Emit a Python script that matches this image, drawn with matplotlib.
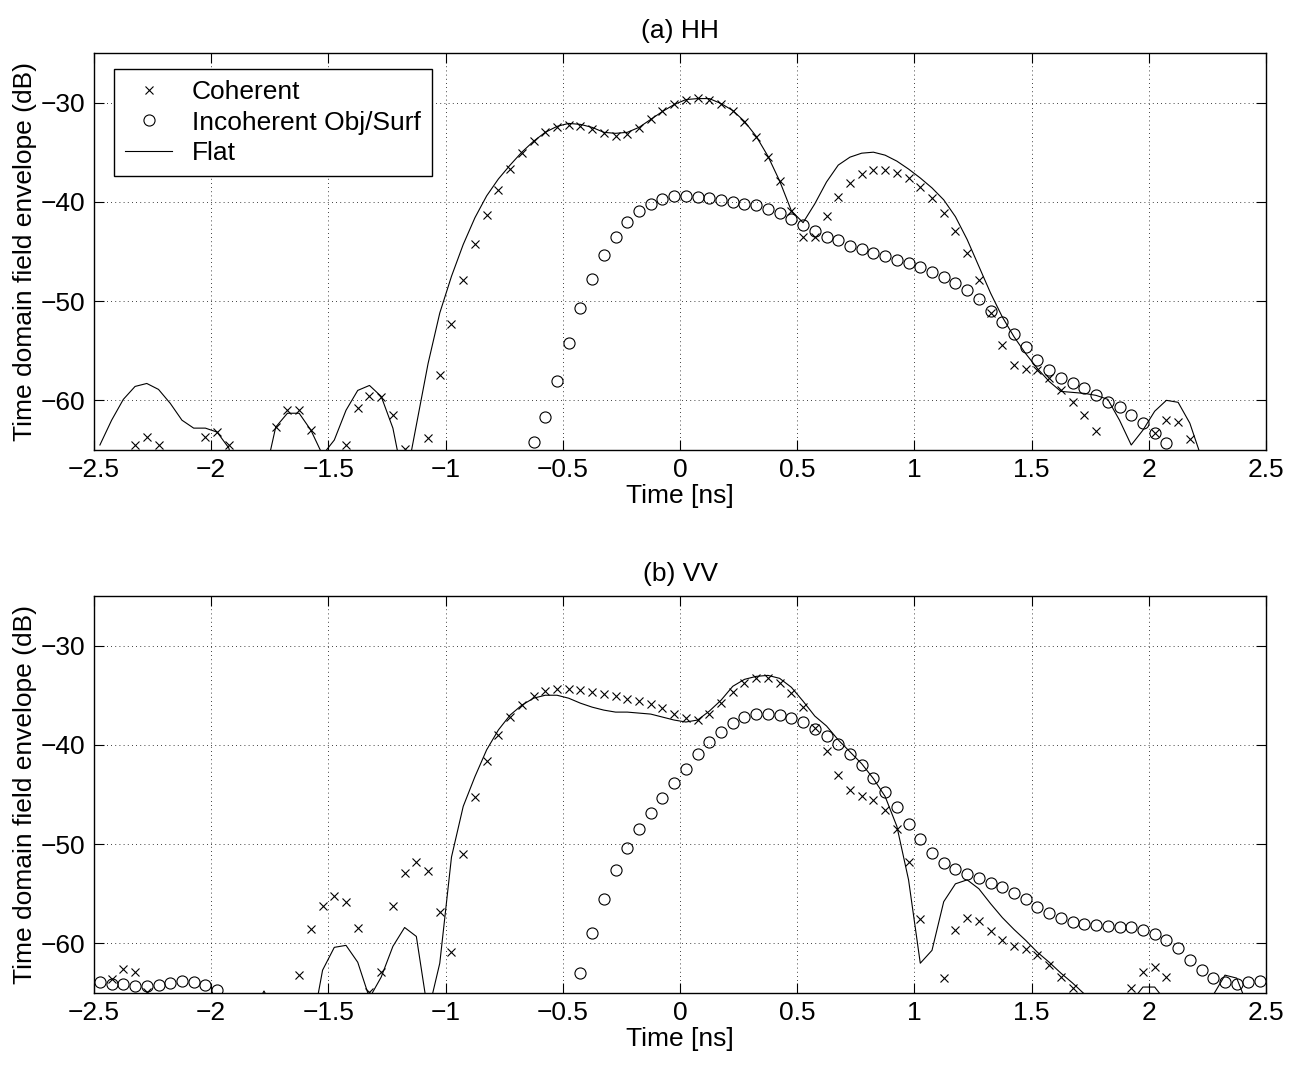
import numpy as np
import matplotlib.pyplot as plt
from matplotlib.ticker import FuncFormatter, MultipleLocator

plt.rcParams['font.family'] = ['Liberation Sans', 'DejaVu Sans']

nan = np.nan

# base de temps (ns) : 100 échantillons, pas de 0.05 ns
temps = np.round(np.linspace(-2.475, 2.475, 100), 3)

# ---------- (a) HH ----------
hh_coherent = [
    nan, nan, nan, -64.5, -63.7, -64.5, nan, nan, nan, -63.7,
    -63.2, -64.5, nan, nan, nan, -62.7, -61.0, -61.0, -63.0, nan,
    nan, -64.5, -60.8, -59.6, -59.7, -61.5, -64.9, nan, -63.8, -57.4,
    -52.3, -47.9, -44.2, -41.3, -38.8, -36.7, -35.1, -33.9, -33.0, -32.5,
    -32.3, -32.4, -32.7, -33.1, -33.4, -33.2, -32.6, -31.7, -30.8, -30.1,
    -29.7, -29.5, -29.7, -30.1, -30.9, -32.0, -33.5, -35.5, -37.9, -40.9,
    -43.5, -43.5, -41.4, -39.5, -38.1, -37.2, -36.8, -36.8, -37.1, -37.6,
    -38.5, -39.6, -41.1, -42.9, -45.2, -47.9, -51.2, -54.4, -56.4, -56.8,
    -56.9, -57.8, -59.0, -60.2, -61.5, -63.1, nan, nan, nan, nan,
    -63.3, -62.0, -62.2, -63.9, nan, nan, nan, nan, nan, nan,
]

hh_incoherent = [
    nan, nan, nan, nan, nan, nan, nan, nan, nan, nan,
    nan, nan, nan, nan, nan, nan, nan, nan, nan, nan,
    nan, nan, nan, nan, nan, nan, nan, nan, nan, nan,
    nan, nan, nan, nan, nan, nan, nan, -64.2, -61.7, -58.1,
    -54.2, -50.7, -47.8, -45.4, -43.5, -42.0, -40.9, -40.2, -39.7, -39.4,
    -39.4, -39.5, -39.6, -39.8, -40.0, -40.2, -40.3, -40.7, -41.1, -41.7,
    -42.3, -42.9, -43.5, -43.8, -44.5, -44.8, -45.2, -45.5, -45.9, -46.2,
    -46.6, -47.1, -47.6, -48.2, -48.9, -49.8, -51.0, -52.1, -53.3, -54.6,
    -55.9, -56.9, -57.7, -58.3, -58.8, -59.5, -60.2, -60.7, -61.5, -62.3,
    -63.3, -64.3, nan, nan, nan, nan, nan, nan, nan, nan,
]

hh_flat = [
    -64.5, -62.0, -59.9, -58.6, -58.3, -58.9, -60.3, -62.0, -62.8, -62.8,
    -63.2, -64.8, -70.0, -72.0, -68.0, -62.7, -61.3, -61.3, -63.0, -65.5,
    -64.0, -61.0, -59.0, -58.5, -59.6, -62.8, -68.7, -62.5, -56.3, -51.2,
    -47.5, -44.3, -41.6, -39.4, -37.7, -36.3, -35.0, -33.9, -33.0, -32.4,
    -32.1, -32.2, -32.5, -33.0, -33.1, -33.0, -32.5, -31.7, -30.9, -30.2,
    -29.7, -29.6, -29.6, -30.1, -30.8, -31.9, -33.4, -35.4, -37.9, -40.9,
    -42.1, -40.2, -38.0, -36.3, -35.5, -35.1, -35.0, -35.3, -35.9, -36.7,
    -37.6, -38.6, -39.8, -41.5, -43.8, -46.5, -49.2, -51.6, -53.6, -55.3,
    -56.8, -58.1, -59.1, -59.2, -59.3, -59.5, -59.9, -62.0, -64.5, -63.0,
    -61.1, -60.0, -60.2, -62.3, -65.8, nan, nan, nan, nan, nan,
]

# ---------- (b) VV ----------
vv_coherent = [
    nan, -63.6, -62.6, -62.9, -64.9, nan, nan, nan, nan, nan,
    nan, nan, nan, nan, nan, nan, nan, -63.2, -58.6, -56.2,
    -55.2, -55.8, -58.5, -64.9, -62.9, -56.2, -52.9, -51.8, -52.7, -56.8,
    -60.9, -51.0, -45.3, -41.6, -39.0, -37.2, -36.0, -35.1, -34.6, -34.4,
    -34.4, -34.5, -34.7, -34.9, -35.1, -35.4, -35.6, -35.9, -36.3, -36.9,
    -37.3, -37.5, -36.9, -35.8, -34.7, -33.8, -33.3, -33.3, -33.8, -34.8,
    -36.2, -38.3, -40.6, -43.0, -44.5, -45.2, -45.6, -46.6, -48.5, -51.8,
    -57.5, nan, -63.5, -58.7, -57.4, -57.7, -58.8, -59.7, -60.3, -60.6,
    -61.2, -62.2, -63.4, -64.5, nan, nan, nan, nan, -64.5, -62.9,
    -62.4, -63.4, nan, nan, nan, nan, nan, nan, nan, nan,
]

vv_incoherent = [
    -63.9, -64.1, -64.1, -64.3, -64.3, -64.2, -64.0, -63.8, -63.9, -64.2,
    -64.7, nan, nan, nan, nan, nan, nan, nan, nan, nan,
    nan, nan, nan, nan, nan, nan, nan, nan, nan, nan,
    nan, nan, nan, nan, nan, nan, nan, nan, nan, nan,
    nan, -63.0, -59.0, -55.5, -52.6, -50.4, -48.5, -46.9, -45.4, -43.8,
    -42.4, -40.9, -39.7, -38.7, -37.8, -37.2, -36.9, -36.9, -37.0, -37.3,
    -37.7, -38.4, -39.1, -39.9, -40.9, -42.0, -43.3, -44.7, -46.3, -48.0,
    -49.5, -50.9, -51.9, -52.5, -53.0, -53.4, -53.9, -54.3, -54.9, -55.5,
    -56.3, -56.9, -57.4, -57.8, -58.0, -58.1, -58.2, -58.3, -58.4, -58.7,
    -59.1, -59.7, -60.5, -61.7, -62.7, -63.5, -63.9, -64.1, -63.9, -63.8,
]

vv_flat = [
    nan, nan, nan, nan, nan, nan, nan, nan, nan, nan,
    nan, nan, nan, -67.0, -64.8, -67.0, nan, nan, -69.1, -62.7,
    -60.4, -60.2, -61.9, -65.5, -63.4, -60.3, -58.4, -59.3, -67.0, -62.0,
    -51.3, -46.2, -43.2, -40.5, -38.5, -37.0, -36.0, -35.3, -35.0, -35.0,
    -35.3, -35.8, -36.2, -36.5, -36.7, -36.7, -36.8, -36.9, -37.2, -37.5,
    -37.7, -37.5, -36.6, -35.5, -34.1, -33.4, -33.1, -33.0, -33.3, -34.2,
    -35.6, -37.1, -38.1, -39.5, -40.7, -41.9, -43.4, -45.2, -48.2, -53.6,
    -62.0, -60.7, -55.8, -54.0, -53.6, -54.5, -56.0, -57.4, -58.6, -59.7,
    -60.9, -61.9, -63.0, -64.0, -65.1, -67.0, nan, nan, -65.9, -64.4,
    -64.4, -65.9, nan, nan, nan, -65.2, -63.2, -63.5, -66.5, nan,
]

TAILLE = 19


def format_moins(v, pos):
    return f"{v:g}".replace('-', '\u2212')


def tracer_panneau(ax, titre, coherent, incoherent, flat, legende=False):
    ax.plot(temps, coherent, linestyle='none', marker='x', color='k',
            markersize=5.8, markeredgewidth=0.8, label='Coherent')
    ax.plot(temps, incoherent, linestyle='none', marker='o', markerfacecolor='none',
            markeredgecolor='k', markersize=8, markeredgewidth=0.8,
            label='Incoherent Obj/Surf')
    ax.plot(temps, flat, color='k', linewidth=0.8, label='Flat')

    ax.set_xlim(-2.5, 2.5)
    ax.set_ylim(-65, -25)
    ax.xaxis.set_major_locator(MultipleLocator(0.5))
    ax.set_yticks([-60, -50, -40, -30])
    ax.xaxis.set_major_formatter(FuncFormatter(format_moins))
    ax.yaxis.set_major_formatter(FuncFormatter(format_moins))
    ax.tick_params(direction='in', length=7.5, width=0.8, top=True, right=True,
                   labelsize=TAILLE, pad=6)
    ax.grid(True, color='k', linestyle=(0, (1, 4)), linewidth=0.6)
    for s in ax.spines.values():
        s.set_linewidth(1.0)

    ax.set_title(titre, fontsize=TAILLE, pad=11)
    ax.set_xlabel("Time [ns]", fontsize=TAILLE, labelpad=1)
    ax.set_ylabel("Time domain field envelope (dB)", fontsize=TAILLE, labelpad=3)

    if legende:
        leg = ax.legend(loc='upper left', bbox_to_anchor=(0.017, 0.959),
                        fontsize=TAILLE, numpoints=1, handlelength=1.78,
                        handletextpad=0.75, labelspacing=0.24, borderpad=0.42,
                        borderaxespad=0.0, fancybox=False, framealpha=1)
        leg.get_frame().set_edgecolor('k')
        leg.get_frame().set_linewidth(1.0)


fig = plt.figure(figsize=(12.99, 10.65), dpi=100)
ax_hh = fig.add_axes([0.0724, 0.5775, 0.9022, 0.3728])
ax_vv = fig.add_axes([0.0724, 0.0676, 0.9022, 0.3728])

tracer_panneau(ax_hh, "(a) HH", hh_coherent, hh_incoherent, hh_flat, legende=True)
tracer_panneau(ax_vv, "(b) VV", vv_coherent, vv_incoherent, vv_flat)

fig.savefig("out.png", dpi=100)
plt.close(fig)
